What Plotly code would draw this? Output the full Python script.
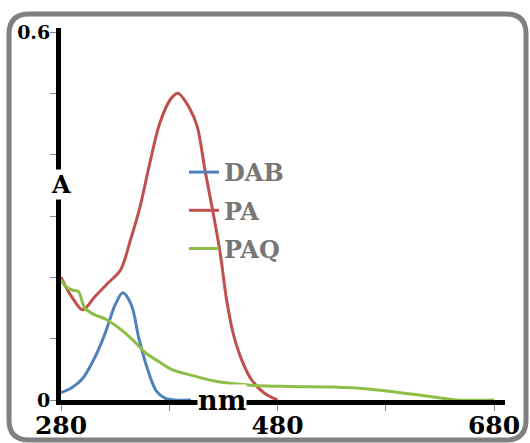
import plotly.graph_objects as go

# ---- data ----
dab_nm = [280, 290, 300, 310, 320, 330, 337, 345, 352, 360, 368, 376, 385, 400]
dab_a = [0.012, 0.02, 0.035, 0.065, 0.105, 0.155, 0.175, 0.155, 0.10, 0.05, 0.015, 0.003, 0.0, 0.0]

pa_nm = [280, 290, 300, 311, 323, 335, 344, 353, 362, 371, 381, 388, 399, 406, 413, 420, 427, 433,
         439, 447, 456, 468, 480]
pa_a = [0.2, 0.168, 0.147, 0.168, 0.19, 0.212, 0.26, 0.315, 0.386, 0.45, 0.49, 0.50, 0.475, 0.445,
        0.375, 0.31, 0.24, 0.163, 0.109, 0.065, 0.033, 0.011, 0.0]

paq_nm = [280, 285, 291, 296, 302, 311, 321, 336, 348, 358, 370, 382, 399, 424, 455, 491,
          531, 563, 593, 624, 646, 680]
paq_a = [0.196, 0.184, 0.179, 0.177, 0.15, 0.139, 0.132, 0.114, 0.095, 0.077, 0.063, 0.05,
         0.041, 0.03, 0.024, 0.022, 0.021, 0.018, 0.012, 0.005, 0.0, 0.0]

x_tickvals = [280, 380, 480, 580, 680]
x_ticktext = ["280", "", "480", "", "680"]
y_tickvals = [0, 0.1, 0.2, 0.3, 0.4, 0.5, 0.6]
y_ticktext = ["0", "", "", "", "", "", "0.6"]

# ---- figure ----
W, H = 530, 443
L, R, T, B = 61, 25, 28, 43
pw, ph = W - L - R, H - T - B

def px2paper(px, py):
    return (px - L) / pw, (H - B - py) / ph

serif = "DejaVu Serif"
fig = go.Figure()
for name, xs, ys, col in [("DAB", dab_nm, dab_a, "#4F81BD"),
                           ("PA", pa_nm, pa_a, "#C0504D"),
                           ("PAQ", paq_nm, paq_a, "#8DBE45")]:
    fig.add_trace(go.Scatter(x=xs, y=ys, mode="lines", name=name, legendgroup=name,
                             line=dict(color=col, width=3, shape="spline", smoothing=0.9)))

fig.update_layout(
    width=W, height=H, margin=dict(l=L, r=R, t=T, b=B, autoexpand=False),
    paper_bgcolor="white", plot_bgcolor="white",
    showlegend=True,
    legend=dict(x=px2paper(184, 0)[0], y=px2paper(0, 150)[1], xanchor="left", yanchor="top",
                bgcolor="rgba(0,0,0,0)", tracegroupgap=4, itemwidth=30,
                font=dict(family=serif, size=24, color="#777777", weight="bold")),
    xaxis=dict(range=[280, 280 + pw / 1.0825], showgrid=False, zeroline=False, automargin=False,
               showline=True, linecolor="black", linewidth=5,
               tickvals=x_tickvals, ticktext=x_ticktext, ticks="outside", ticklen=6,
               tickcolor="#888888", tickwidth=1, ticklabelstandoff=-7,
               tickfont=dict(family=serif, size=25, color="black", weight="bold")),
    yaxis=dict(range=[0, 0.6 + 4 / 613], showgrid=False, zeroline=False, automargin=False,
               showline=True, linecolor="black", linewidth=5,
               tickvals=y_tickvals, ticktext=y_ticktext, ticks="outside", ticklen=6,
               tickcolor="#888888", tickwidth=1, ticklabelstandoff=-4,
               tickfont=dict(family=serif, size=19, color="black", weight="bold")),
)

# axis titles overlaid on the axes
ax, ay = px2paper(61, 185)
fig.add_annotation(x=ax, y=ay, xref="paper", yref="paper", text="<b>A</b>", showarrow=False,
                   xanchor="center", yanchor="middle",
                   bgcolor="white", borderpad=0, font=dict(family=serif, size=24, color="black"))
nx, ny = px2paper(222, 400)
fig.add_annotation(x=nx, y=ny, xref="paper", yref="paper", text="<b>nm</b>", showarrow=False,
                   xanchor="center", yanchor="middle",
                   bgcolor="white", borderpad=0, font=dict(family=serif, size=27, color="black"))

# rounded gray frame
x0, y0 = px2paper(9, 14)
x1, y1 = px2paper(526, 440)
rx, ry = 20 / pw, 20 / ph
path = (f"M {x0+rx},{y0} L {x1-rx},{y0} Q {x1},{y0} {x1},{y0-ry} "
        f"L {x1},{y1+ry} Q {x1},{y1} {x1-rx},{y1} L {x0+rx},{y1} Q {x0},{y1} {x0},{y1+ry} "
        f"L {x0},{y0-ry} Q {x0},{y0} {x0+rx},{y0} Z")
fig.add_shape(type="path", path=path, xref="paper", yref="paper",
              line=dict(color="#808080", width=5), layer="below")

fig.write_html("out.html", config={"displayModeBar": False},
               post_script="document.body.style.margin='0';document.body.style.overflow='hidden';")
